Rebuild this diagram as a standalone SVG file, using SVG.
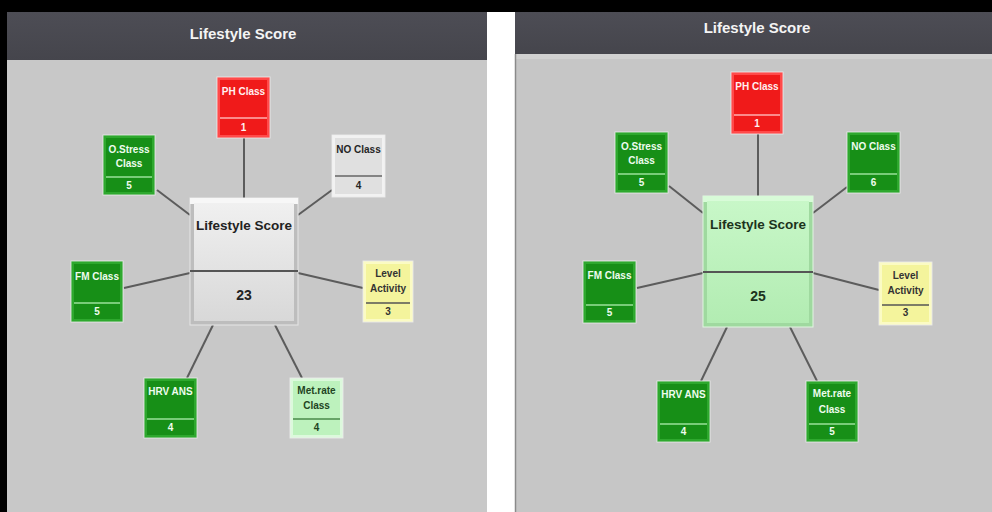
<svg xmlns="http://www.w3.org/2000/svg" width="992" height="512" viewBox="0 0 992 512">
<defs>
<linearGradient id="hdr" x1="0" y1="0" x2="0" y2="1"><stop offset="0" stop-color="#4d4d55"/><stop offset="1" stop-color="#45454c"/></linearGradient>
<linearGradient id="cw" x1="0" y1="0" x2="0" y2="1"><stop offset="0" stop-color="#f0f0f0"/><stop offset="1" stop-color="#d8d8d8"/></linearGradient>
<linearGradient id="cg" x1="0" y1="0" x2="0" y2="1"><stop offset="0" stop-color="#c8f7c8"/><stop offset="1" stop-color="#b2ecb2"/></linearGradient>
<style>
.conn line{stroke:#5c5c5c;stroke-width:2}
.frame{stroke:#ececec;stroke-width:1;stroke-opacity:0.8}
.g .frame{fill:#2ea82e}.g .core{fill:#178f17}.g .div{stroke:#9be09b}.g text{fill:#eefcee}
.r .frame{fill:#ff4a4a}.r .core{fill:#f01a1a}.r .div{stroke:#ffb0b0}.r text{fill:#fff0f0}
.w .frame{fill:#f2f2f2}.w .core{fill:#e0e0e0}.w .div{stroke:#666}.w text{fill:#262626}
.y .frame{fill:#fbfbc4}.y .core{fill:#f4f49c}.y .div{stroke:#555}.y text{fill:#333}
.l .frame{fill:#dcf9dc}.l .core{fill:#bdf2bd}.l .div{stroke:#4a8a4a}.l text{fill:#224422}
.div{stroke-width:1.5}
text{font-family:"Liberation Sans",Arial,sans-serif;font-weight:bold;text-anchor:middle}
.n text{font-size:10px}
.c text{font-size:13.5px;fill:#222}
.c .div{stroke:#555;stroke-width:2}
.h{font-size:15px;fill:#f4f4f4}
</style>
</defs>
<rect width="992" height="512" fill="#000"/>
<rect x="487" y="12" width="28" height="500" fill="#ffffff"/>
<!-- left panel -->
<rect x="7" y="12" width="480" height="48" fill="url(#hdr)"/>
<rect x="7" y="60" width="480" height="452" fill="#c8c8c8"/>
<text class="h" x="243" y="39">Lifestyle Score</text>
<!-- right panel -->
<rect x="515" y="12" width="477" height="42" fill="url(#hdr)"/>
<rect x="515" y="54" width="477" height="458" fill="#c6c6c6"/>
<rect x="515" y="54" width="477" height="5" fill="#d0d0d0"/>
<line x1="515.5" y1="54" x2="515.5" y2="512" stroke="#8a8a8a" stroke-width="1.5"/>
<text class="h" x="757" y="33">Lifestyle Score</text>

<g id="connectors" class="conn">
<line x1="244" y1="138" x2="244" y2="198"/>
<line x1="157" y1="190" x2="190" y2="215"/>
<line x1="332" y1="190" x2="298" y2="215"/>
<line x1="124" y1="288" x2="190" y2="273"/>
<line x1="298" y1="273" x2="363" y2="288"/>
<line x1="213" y1="325" x2="187" y2="378"/>
<line x1="275" y1="325" x2="302" y2="378"/>
<line x1="758" y1="134" x2="758" y2="196"/>
<line x1="669" y1="186" x2="703" y2="213"/>
<line x1="847" y1="187" x2="813" y2="213"/>
<line x1="637" y1="288" x2="703" y2="273"/>
<line x1="813" y1="273" x2="879" y2="290"/>
<line x1="727" y1="327" x2="701" y2="381"/>
<line x1="790" y1="327" x2="817" y2="381"/>
</g>

<!-- LEFT nodes -->
<g id="L-center" class="c">
<rect x="190" y="198" width="108" height="127" fill="#bdbdbd" stroke="#e6e6e6"/>
<rect x="190" y="198" width="108" height="6" fill="#f7f7f7"/>
<rect x="194" y="203" width="100" height="118" fill="url(#cw)"/>
<line class="div" x1="190" y1="271" x2="298" y2="271"/>
<text x="244" y="230">Lifestyle Score</text>
<text x="244" y="300" style="font-size:14px">23</text>
</g>
<g id="L-ph" class="n r">
<rect class="frame" x="217" y="77" width="53" height="61"/>
<rect class="core" x="220" y="80" width="47" height="55"/>
<line class="div" x1="220" y1="118" x2="267" y2="118"/>
<text x="243.5" y="95">PH Class</text>
<text x="243.5" y="131">1</text>
</g>
<g id="L-ostress" class="n g">
<rect class="frame" x="103" y="135" width="52" height="60"/>
<rect class="core" x="106" y="138" width="46" height="54"/>
<line class="div" x1="106" y1="177" x2="152" y2="177"/>
<text x="129" y="153">O.Stress</text>
<text x="129" y="167">Class</text>
<text x="129" y="189">5</text>
</g>
<g id="L-no" class="n w">
<rect class="frame" x="332" y="135" width="53" height="62"/>
<rect class="core" x="335" y="138" width="47" height="56"/>
<line class="div" x1="335" y1="176" x2="382" y2="176"/>
<text x="358.5" y="153">NO Class</text>
<text x="358.5" y="189">4</text>
</g>
<g id="L-fm" class="n g">
<rect class="frame" x="71" y="261" width="52" height="61"/>
<rect class="core" x="74" y="264" width="46" height="55"/>
<line class="div" x1="74" y1="303" x2="120" y2="303"/>
<text x="97" y="280">FM Class</text>
<text x="97" y="315">5</text>
</g>
<g id="L-level" class="n y">
<rect class="frame" x="363" y="261" width="50" height="61"/>
<rect class="core" x="366" y="264" width="44" height="55"/>
<line class="div" x1="366" y1="303" x2="410" y2="303"/>
<text x="388" y="277">Level</text>
<text x="388" y="292">Activity</text>
<text x="388" y="315">3</text>
</g>
<g id="L-hrv" class="n g">
<rect class="frame" x="144" y="378" width="53" height="60"/>
<rect class="core" x="147" y="381" width="47" height="54"/>
<line class="div" x1="147" y1="419" x2="194" y2="419"/>
<text x="170.5" y="395">HRV ANS</text>
<text x="170.5" y="431">4</text>
</g>
<g id="L-met" class="n l">
<rect class="frame" x="290" y="378" width="53" height="60"/>
<rect class="core" x="293" y="381" width="47" height="54"/>
<line class="div" x1="293" y1="419" x2="340" y2="419"/>
<text x="316.5" y="394">Met.rate</text>
<text x="316.5" y="409">Class</text>
<text x="316.5" y="431">4</text>
</g>

<!-- RIGHT nodes -->
<g id="R-center" class="c">
<rect x="703" y="196" width="110" height="131" fill="#9fd99f" stroke="#e0f5e0"/>
<rect x="703" y="196" width="110" height="6" fill="#d8fbd8"/>
<rect x="707" y="201" width="102" height="122" fill="url(#cg)"/>
<line class="div" x1="703" y1="272" x2="813" y2="272"/>
<text x="758" y="229" style="fill:#1c331c">Lifestyle Score</text>
<text x="758" y="301" style="font-size:14px;fill:#1c331c">25</text>
</g>
<g id="R-ph" class="n r">
<rect class="frame" x="731" y="72" width="52" height="62"/>
<rect class="core" x="734" y="75" width="46" height="56"/>
<line class="div" x1="734" y1="115" x2="780" y2="115"/>
<text x="757" y="90">PH Class</text>
<text x="757" y="127">1</text>
</g>
<g id="R-ostress" class="n g">
<rect class="frame" x="615" y="132" width="53" height="61"/>
<rect class="core" x="618" y="135" width="47" height="55"/>
<line class="div" x1="618" y1="174" x2="665" y2="174"/>
<text x="641.5" y="150">O.Stress</text>
<text x="641.5" y="164">Class</text>
<text x="641.5" y="186">5</text>
</g>
<g id="R-no" class="n g">
<rect class="frame" x="847" y="132" width="53" height="61"/>
<rect class="core" x="850" y="135" width="47" height="55"/>
<line class="div" x1="850" y1="174" x2="897" y2="174"/>
<text x="873.5" y="150">NO Class</text>
<text x="873.5" y="186">6</text>
</g>
<g id="R-fm" class="n g">
<rect class="frame" x="583" y="261" width="53" height="62"/>
<rect class="core" x="586" y="264" width="47" height="56"/>
<line class="div" x1="586" y1="305" x2="633" y2="305"/>
<text x="609.5" y="279">FM Class</text>
<text x="609.5" y="316">5</text>
</g>
<g id="R-level" class="n y">
<rect class="frame" x="879" y="262" width="53" height="63"/>
<rect class="core" x="882" y="265" width="47" height="57"/>
<line class="div" x1="882" y1="305" x2="929" y2="305"/>
<text x="905.5" y="279">Level</text>
<text x="905.5" y="294">Activity</text>
<text x="905.5" y="316">3</text>
</g>
<g id="R-hrv" class="n g">
<rect class="frame" x="657" y="381" width="53" height="61"/>
<rect class="core" x="660" y="384" width="47" height="55"/>
<line class="div" x1="660" y1="424" x2="707" y2="424"/>
<text x="683.5" y="398">HRV ANS</text>
<text x="683.5" y="435">4</text>
</g>
<g id="R-met" class="n g">
<rect class="frame" x="806" y="381" width="52" height="61"/>
<rect class="core" x="809" y="384" width="46" height="55"/>
<line class="div" x1="809" y1="424" x2="855" y2="424"/>
<text x="832" y="397">Met.rate</text>
<text x="832" y="413">Class</text>
<text x="832" y="435">5</text>
</g>
</svg>
